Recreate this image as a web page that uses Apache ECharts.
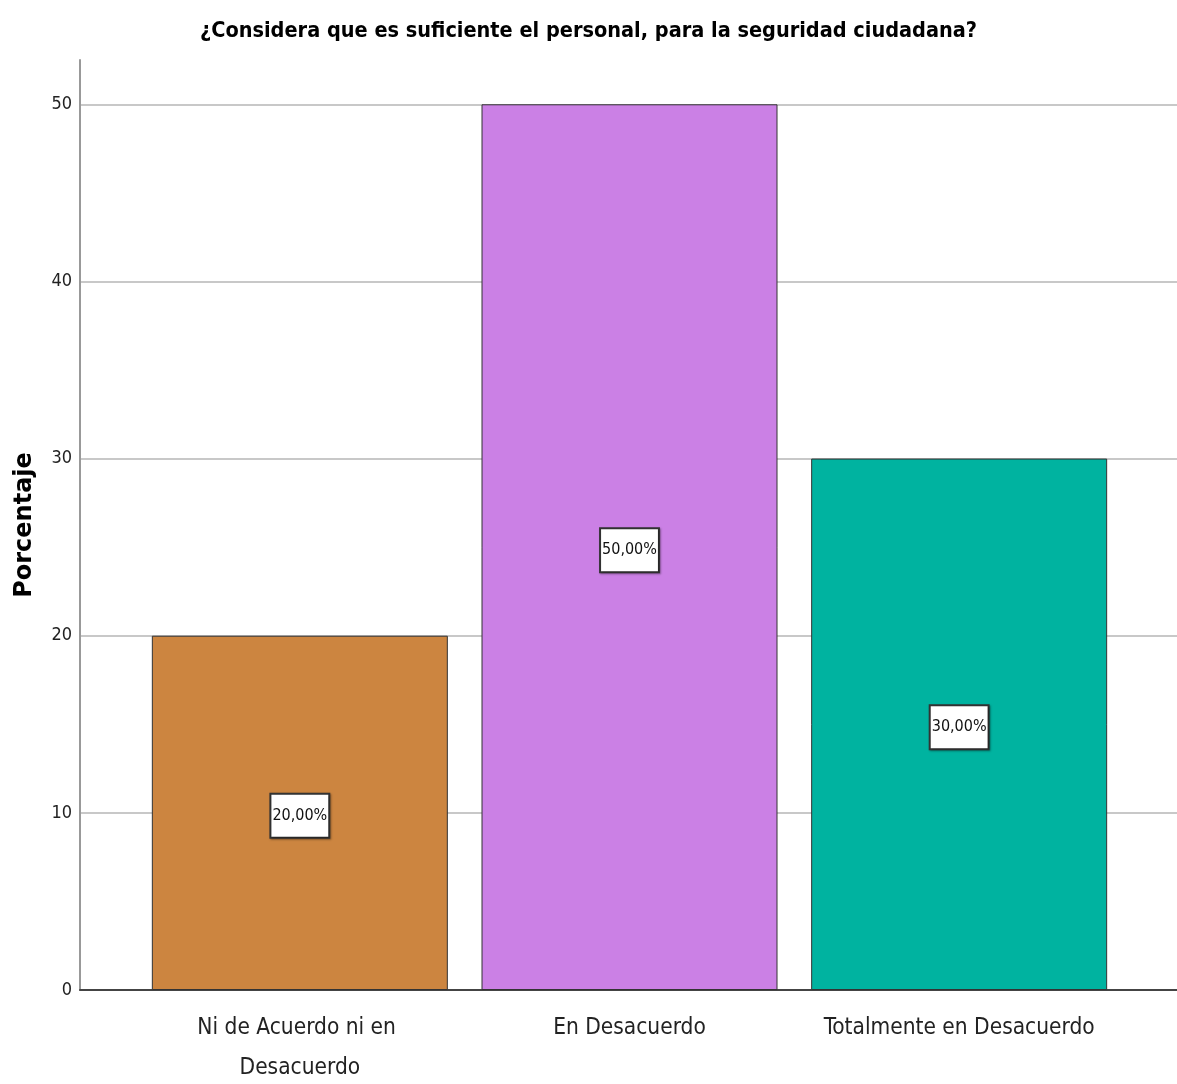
<!DOCTYPE html>
<html>
<head>
<meta charset="utf-8">
<script src="https://cdn.jsdelivr.net/npm/echarts@6/dist/echarts.min.js"></script>
<style>
html,body{margin:0;padding:0;background:#fff;}
#chart{width:1177px;height:1084px;}
</style>
</head>
<body>
<div id="chart"></div>
<script>
const titleText = '¿Considera que es suficiente el personal, para la seguridad ciudadana?';
const categories = ['Ni de Acuerdo ni en Desacuerdo', 'En Desacuerdo', 'Totalmente en Desacuerdo'];
const percentValues = [20, 50, 30];
const barColors = ['#CC8540', '#CB80E5', '#00B3A0'];
const yTicks = [0, 10, 20, 30, 40, 50];
const yAxisName = 'Porcentaje';

const NARROW = '"Liberation Sans Narrow", "Arial Narrow", "DejaVu Sans Condensed", sans-serif';
const yMax = 52.5;

const chart = echarts.init(document.getElementById('chart'), null, {renderer: 'canvas'});
chart.setOption({
  backgroundColor: '#ffffff',
  animation: false,
  title: {
    text: titleText,
    left: 'center',
    top: 15,
    textStyle: {fontFamily: NARROW, fontWeight: 'bold', fontSize: 21.5, color: '#000'}
  },
  grid: [
    {left: 80, right: 0, top: 60, bottom: 94, containLabel: false, outerBoundsMode: 'none'},
    {left: 135, right: 53, top: 60, bottom: 94, containLabel: false, outerBoundsMode: 'none'}
  ],
  xAxis: [
    {
      gridIndex: 0, type: 'value', min: 0, max: 1, show: true,
      axisLine: {show: true, lineStyle: {color: '#444', width: 2}},
      axisTick: {show: false}, axisLabel: {show: false}, splitLine: {show: false}
    },
    {
      gridIndex: 1, type: 'category', data: categories,
      axisLine: {show: false}, axisTick: {show: false},
      axisLabel: {
        margin: 18, fontFamily: NARROW, fontSize: 22.5, color: '#222',
        lineHeight: 40, width: 280, overflow: 'break', interval: 0
      }
    }
  ],
  yAxis: [
    {
      gridIndex: 0, type: 'value', min: yTicks[0], max: yMax, interval: 10,
      name: yAxisName, nameLocation: 'middle', nameGap: 43, nameRotate: 90,
      nameTextStyle: {fontFamily: '"DejaVu Sans", sans-serif', fontWeight: 'bold', fontSize: 24, color: '#000'},
      axisLine: {show: true, lineStyle: {color: '#999', width: 2}},
      axisTick: {show: false},
      axisLabel: {show: true, showMaxLabel: false, margin: 8, fontFamily: NARROW, fontSize: 18, color: '#222',
        formatter: v => (yTicks.indexOf(v) >= 0 ? String(v) : '')},
      splitLine: {show: true, showMaxLine: false, showMinLine: false, lineStyle: {color: '#c8c8c8', width: 2}}
    },
    {
      gridIndex: 1, type: 'value', min: yTicks[0], max: yMax, show: false
    }
  ],
  series: [
    {
      type: 'bar', xAxisIndex: 1, yAxisIndex: 1,
      barWidth: 296,
      data: percentValues.map((v, i) => ({
        value: v,
        itemStyle: {color: barColors[i], borderColor: '#333', borderWidth: 1}
      })),
      label: {
        show: true, position: 'inside', offset: [0, 3],
        formatter: p => p.value.toFixed(2).replace('.', ',') + '%',
        fontFamily: NARROW, fontSize: 16, color: '#111',
        backgroundColor: '#fff', borderColor: '#333', borderWidth: 2,
        padding: [14, 1, 12, 1],
        shadowColor: 'rgba(0,0,0,0.35)', shadowBlur: 2, shadowOffsetX: 1, shadowOffsetY: 1
      }
    }
  ]
});
</script>
</body>
</html>
